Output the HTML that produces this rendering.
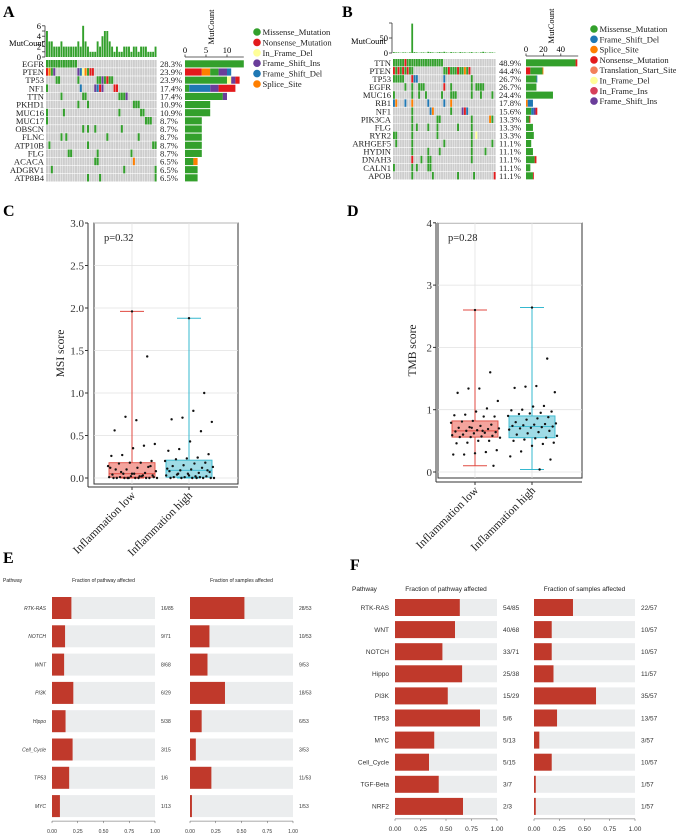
<!DOCTYPE html>
<html><head><meta charset="utf-8"><style>
html,body{margin:0;padding:0;background:#fff;}
svg{display:block;}
</style></head><body>
<svg id="fig" width="676" height="835" xmlns="http://www.w3.org/2000/svg" font-family="Liberation Serif, serif"></svg>
<script>
// ---------- DATA ----------
const typeColors = {Missense_Mutation:'#33a02c',Nonsense_Mutation:'#e31a1c',In_Frame_Del:'#ffff99',Frame_Shift_Ins:'#6a3d9a',Frame_Shift_Del:'#1f78b4',Splice_Site:'#ff7f00',Translation_Start_Site:'#f2805a',In_Frame_Ins:'#d6405a'};
const legendA = ['Missense_Mutation','Nonsense_Mutation','In_Frame_Del','Frame_Shift_Ins','Frame_Shift_Del','Splice_Site'];
const legendB = ['Missense_Mutation','Frame_Shift_Del','Splice_Site','Nonsense_Mutation','Translation_Start_Site','In_Frame_Del','In_Frame_Ins','Frame_Shift_Ins'];
const genesA = ['EGFR','PTEN','TP53','NF1','TTN','PKHD1','MUC16','MUC17','OBSCN','FLNC','ATP10B','FLG','ACACA','ADGRV1','ATP8B4'];
const pctA = ['28.3%','23.9%','23.9%','17.4%','17.4%','10.9%','10.9%','8.7%','8.7%','8.7%','8.7%','8.7%','6.5%','6.5%','6.5%'];
const G='Missense_Mutation',R='Nonsense_Mutation',Y='In_Frame_Del',P='Frame_Shift_Ins',B='Frame_Shift_Del',O='Splice_Site',T='Translation_Start_Site',I='In_Frame_Ins';
const mutA = [
 [[0,G],[1,G],[2,G],[3,G],[4,G],[5,G],[6,G],[7,G],[8,G],[9,G],[10,G],[11,G],[12,G]],
 [[0,R],[1,O],[2,G],[3,P],[13,P],[14,B],[15,Y],[16,O],[17,G],[18,R],[19,R]],
 [[4,G],[5,G],[13,G],[21,G],[22,G],[23,P],[24,G],[25,R],[26,G],[27,G]],
 [[0,G],[14,B],[20,P],[21,B],[22,R],[23,P],[28,R],[29,R]],
 [[6,G],[15,G],[16,G],[30,G],[31,G],[32,G],[33,P]],
 [[13,G],[17,G],[36,G],[37,G],[38,G]],
 [[0,G],[7,G],[30,G],[39,G],[40,G]],
 [[0,G],[41,G],[42,G],[43,G]],
 [[15,G],[17,G],[20,G],[31,G]],
 [[6,G],[8,G],[25,G],[38,G]],
 [[1,G],[17,G],[44,G],[45,G]],
 [[9,G],[10,G],[21,G],[35,G]],
 [[20,G],[21,G],[36,O]],
 [[2,G],[32,G],[45,G]],
 [[17,G],[22,G],[45,G]]
];
const topA = [5,3,3,2,2,2,3,2,2,2,2,2,2,3,2,6,3,2,1,1,1,3,2,4,5,5,3,2,1,2,1,1,2,2,2,1,2,2,1,2,2,2,1,1,1,2];
const barsA = [
 [[G,14]],[[R,4],[O,2],[G,2],[P,2],[B,1]],[[G,10],[Y,1],[P,1],[R,1]],[[G,1],[B,5],[P,2],[R,4]],[[G,9],[P,1]],
 [[G,6]],[[G,6]],[[G,4]],[[G,4]],[[G,4]],[[G,4]],[[G,4]],[[G,2],[O,1]],[[G,3]],[[G,3]]
];
const genesB = ['TTN','PTEN','TP53','EGFR','MUC16','RB1','NF1','PIK3CA','FLG','RYR2','ARHGEF5','HYDIN','DNAH3','CALN1','APOB'];
const pctB = ['48.9%','44.4%','26.7%','26.7%','24.4%','17.8%','15.6%','13.3%','13.3%','13.3%','11.1%','11.1%','11.1%','11.1%','11.1%'];
const mutB = [
 [[0,G],[1,G],[2,G],[3,G],[4,G],[5,R],[6,G],[7,G],[8,G],[9,G],[10,G],[11,G],[12,G],[13,G],[14,G],[15,G],[16,G],[17,G],[18,G],[19,G],[20,G],[21,G]],
 [[0,R],[1,G],[2,R],[3,G],[4,R],[5,G],[6,R],[7,G],[8,G],[22,G],[23,G],[24,R],[25,G],[26,G],[27,G],[28,R],[29,G],[30,G],[31,O],[32,G],[33,R]],
 [[0,G],[1,G],[2,G],[3,G],[4,G],[8,R],[9,B],[10,B],[22,B],[34,G]],
 [[5,G],[8,G],[11,G],[12,G],[13,G],[22,R],[25,G],[34,G],[36,G],[37,G],[38,G],[39,G]],
 [[0,G],[8,G],[11,G],[14,G],[21,G],[25,G],[26,G],[27,G],[34,G],[38,G],[43,G]],
 [[0,B],[1,O],[5,B],[8,O],[15,B],[22,B],[25,O]],
 [[8,G],[16,B],[17,O],[25,G],[30,P],[31,R],[32,B]],
 [[8,G],[19,G],[20,G],[34,G],[42,O],[43,G]],
 [[8,G],[10,G],[15,G],[19,G],[28,G],[34,G]],
 [[0,G],[1,G],[8,G],[19,G],[34,G],[36,Y]],
 [[1,G],[8,G],[22,G],[34,G],[43,G]],
 [[8,G],[15,G],[20,G],[34,G],[40,G]],
 [[8,R],[12,G],[15,G],[16,G],[34,G]],
 [[0,G],[8,G],[10,G],[15,G],[16,G]],
 [[8,G],[17,G],[28,G],[35,G],[44,R]]
];
const topB = [3,2,2,1,2,2,1,2,98,3,2,1,2,2,1,4,3,2,1,2,3,2,4,2,1,3,2,2,1,3,2,2,1,2,3,1,2,1,2,4,2,1,2,2,1];
const barsB = [
 [[G,57],[R,2]],[[R,5],[G,14],[O,1]],[[G,12],[B,1]],[[G,12]],[[G,31]],[[O,2],[B,6]],[[G,6],[B,3],[P,2],[R,2]],
 [[G,4],[R,1]],[[G,8]],[[G,9]],[[G,6]],[[G,8]],[[G,10],[R,2]],[[G,5]],[[G,8],[R,1]]
];
// Boxplot data
const groups = ['Inflammation low','Inflammation high'];
const msiLow = [1.96,1.43,0.68,0.72,0.56,0.40,0.38,0.35,0.27,0.26,0.20,0.18,0.18,0.17,0.14,0.13,0.12,0.10,0.10,0.08,0.06,0.05,0.05,0.04,0.03,0.02,0.02,0.01,0.01,0,0,0,0,0,0,0,0,0,0.01,0.03,0.05,0.07,0.12,0.14,0.02,0];
const msiHigh = [1.88,1.00,0.79,0.71,0.69,0.66,0.55,0.43,0.34,0.32,0.28,0.24,0.23,0.22,0.20,0.18,0.17,0.15,0.14,0.13,0.12,0.10,0.09,0.08,0.07,0.06,0.05,0.04,0.03,0.02,0.02,0.01,0.01,0,0,0,0,0,0,0.01,0.03,0.05,0.11,0.09,0];
const msiStats = [[0,0.01,0.05,0.18,1.96],[0,0.01,0.09,0.21,1.88]]; // min,q1,med,q3,max
const tmbLow = [2.6,1.6,1.34,1.34,1.27,1.14,1.02,0.97,0.92,0.91,0.89,0.89,0.82,0.81,0.79,0.76,0.74,0.72,0.71,0.7,0.69,0.67,0.66,0.65,0.64,0.63,0.62,0.6,0.59,0.58,0.57,0.56,0.56,0.55,0.5,0.5,0.47,0.46,0.35,0.32,0.3,0.28,0.28,0.1,0.66,0.71];
const tmbHigh = [2.64,1.82,1.38,1.37,1.35,1.28,1.06,1.05,1.0,0.99,0.97,0.95,0.94,0.93,0.9,0.88,0.86,0.84,0.8,0.78,0.77,0.76,0.75,0.74,0.73,0.72,0.71,0.7,0.68,0.66,0.64,0.62,0.6,0.58,0.55,0.54,0.52,0.5,0.47,0.45,0.42,0.33,0.25,0.2,0.04];
const tmbStats = [[0.1,0.56,0.66,0.82,2.6],[0.04,0.55,0.73,0.9,2.64]];
const msiTicks = [0,0.5,1,1.5,2,2.5,3];
const tmbTicks = [0,1,2,3,4];
// Pathway data
const pathE = ['RTK-RAS','NOTCH','WNT','PI3K','Hippo','Cell_Cycle','TP53','MYC'];
const pathEFrac = ['16/85','9/71','8/68','6/29','5/38','3/15','1/6','1/13'];
const pathESamp = ['28/53','10/53','9/53','18/53','6/53','3/53','11/53','1/53'];
const pathF = ['RTK-RAS','WNT','NOTCH','Hippo','PI3K','TP53','MYC','Cell_Cycle','TGF-Beta','NRF2'];
const pathFFrac = ['54/85','40/68','33/71','25/38','15/29','5/6','5/13','5/15','3/7','2/3'];
const pathFSamp = ['22/57','10/57','10/57','11/57','35/57','13/57','3/57','10/57','1/57','1/57'];
const fracTicks = ['0.00','0.25','0.50','0.75','1.00'];

// ---------- HELPERS ----------
const svg = document.getElementById('fig');
const NS='http://www.w3.org/2000/svg';
function mk(tag, attrs, parent){const e=document.createElementNS(NS,tag);for(const k in attrs)e.setAttribute(k,attrs[k]);(parent||svg).appendChild(e);return e;}
function txt(s, attrs, parent){const e=mk('text',attrs,parent);e.textContent=s;return e;}

// panel letters
[['A',3,17],['B',342,17],['C',3,216],['D',347,216],['E',3,563],['F',350,570]].forEach(([l,x,y])=>{
 const t=txt(l,{x:x,y:y,'font-size':16,'font-weight':'bold'});
 
 
});

// ---------- ONCOPLOT ----------
function oncoplot(cfg){
 const g=mk('g',{});
 
 
 const n=cfg.nSamples, cw=(cfg.x1-cfg.x0)/n, rh=cfg.rowH;
 cfg.genes.forEach((gene,r)=>{
  const y=cfg.y0+r*rh;
  for(let i=0;i<n;i++) mk('rect',{x:cfg.x0+i*cw,y:y,width:cw-0.4,height:rh-0.6,fill:'#cdcdcd'},g);
  cfg.muts[r].forEach(([i,t])=>{
   const c=mk('rect',{x:cfg.x0+i*cw,y:y,width:cw-0.4,height:rh-0.6,fill:typeColors[t]},g);
   
   
  });
  const gl=txt(gene,{x:cfg.x0-2,y:y+rh-1.2,'font-size':8.6,'text-anchor':'end',fill:'#222'},g);
  
  
  txt(cfg.pct[r],{x:cfg.x1+3,y:y+rh-1.2,'font-size':8.6,fill:'#222'},g);
  let bx=cfg.bx0;
  cfg.bars[r].forEach(([t,v])=>{
   const w=v*cfg.bscale;
   const b=mk('rect',{x:bx,y:y+0.3,width:w,height:rh-1,fill:typeColors[t]},g);
   
   
   bx+=w;
  });
 });
 const tb=cfg.topBase;
 cfg.top.forEach((v,i)=>{
  const h=Math.min(v,cfg.topMax)*cfg.tscale;
  const b=mk('rect',{x:cfg.x0+i*cw,y:tb-h,width:cw-0.5,height:h,fill:typeColors[G]},g);
  
  
 });
 mk('line',{x1:cfg.x0-1,y1:tb,x2:cfg.x0-1,y2:tb-cfg.topTicks[cfg.topTicks.length-1]*cfg.tscale,stroke:'#333','stroke-width':0.8},g);
 cfg.topTicks.forEach(v=>{
  const y=tb-v*cfg.tscale;
  mk('line',{x1:cfg.x0-4,y1:y,x2:cfg.x0-1,y2:y,stroke:'#333','stroke-width':0.8},g);
  if(cfg.topLabels.includes(v)) txt(String(v),{x:cfg.x0-5,y:y+3,'font-size':8.5,'text-anchor':'end'},g);
 });
 txt('MutCount',{x:cfg.mcX,y:cfg.mcY,'font-size':8.5,'text-anchor':'end'},g);
 const ay=cfg.y0-3;
 mk('line',{x1:cfg.bx0,y1:ay,x2:cfg.bx0+cfg.bAxisMax*cfg.bscale,y2:ay,stroke:'#333','stroke-width':0.8},g);
 cfg.bTicks.forEach(v=>{
  const x=cfg.bx0+v*cfg.bscale;
  mk('line',{x1:x,y1:ay,x2:x,y2:ay-2.5,stroke:'#333','stroke-width':0.8},g);
  txt(String(v),{x:x,y:ay-4,'font-size':8.5,'text-anchor':'middle'},g);
 });
 txt('MutCount',{x:0,y:0,'font-size':8.5,'text-anchor':'middle',transform:`translate(${cfg.bx0+cfg.mcOff},${ay-30}) rotate(-90)`},g);
 cfg.legend.forEach((t,i)=>{
  const y=cfg.lgY+i*cfg.lgStep;
  const c=mk('circle',{cx:cfg.lgX,cy:y,r:3.8,fill:typeColors[t]},g);
  
  
  txt(t,{x:cfg.lgX+5.5,y:y+3,'font-size':8.6,fill:'#222'},g);
 });
}
oncoplot({name:'oncoplot-a',nSamples:46,x0:46,x1:157,y0:60,rowH:8.14,genes:genesA,muts:mutA,pct:pctA,bars:barsA,bx0:185,bscale:4.2,bAxisMax:14,bTicks:[0,5,10],mcOff:29,
 top:topA,topBase:57,tscale:5.2,topMax:6,topTicks:[0,1,2,3,4,5,6],topLabels:[0,2,4,6],mcX:44,mcY:46,legend:legendA,lgX:257,lgY:32,lgStep:10.4});
oncoplot({name:'oncoplot-b',nSamples:45,x0:393,x1:496,y0:59,rowH:8.07,genes:genesB,muts:mutB,pct:pctB,bars:barsB,bx0:526,bscale:0.87,bAxisMax:60,bTicks:[0,20,40],mcOff:28,
 top:topB,topBase:53,tscale:0.3,topMax:100,topTicks:[0,50,100],topLabels:[0,50],mcX:386,mcY:44,legend:legendB,lgX:594,lgY:29,lgStep:10.3});

// ---------- BOXPLOTS ----------
function boxplot(cfg){
 const g=mk('g',{});
 
 
 const yS=v=>cfg.yZero-(v)*cfg.yUnit;
 mk('rect',{x:cfg.bx0,y:cfg.by0,width:cfg.bx1-cfg.bx0,height:cfg.by1-cfg.by0,fill:'#fff',stroke:'#333','stroke-width':1},g);
 cfg.ticks.forEach(v=>{
  const y=yS(v);
  mk('line',{x1:cfg.bx0,y1:y,x2:cfg.bx1,y2:y,stroke:'#e2e2e2','stroke-width':0.8},g);
  mk('line',{x1:cfg.ax-3,y1:y,x2:cfg.ax,y2:y,stroke:'#333','stroke-width':1},g);
  const t=txt(cfg.fmt(v),{x:cfg.ax-4,y:y+4,'font-size':11,'text-anchor':'end',fill:'#333'},g);
  
  
 });
 cfg.gx.forEach(x=>mk('line',{x1:x,y1:cfg.by0,x2:x,y2:cfg.by1,stroke:'#e2e2e2','stroke-width':0.8},g));
 mk('line',{x1:cfg.ax,y1:cfg.by0,x2:cfg.ax,y2:cfg.xaY,stroke:'#333','stroke-width':1},g);
 mk('line',{x1:cfg.ax,y1:cfg.xaY,x2:cfg.bx1,y2:cfg.xaY,stroke:'#333','stroke-width':1},g);
 const cols=[['#f8766d','#f4a49d','#e04a40'],['#00bfc4','#9fdbe6','#35b8cf']];
 cfg.stats.forEach((s,k)=>{
  const x=cfg.gx[k], hw=23, c=cols[k];
  const bx=mk('rect',{x:x-hw,y:yS(s[3]),width:2*hw,height:yS(s[1])-yS(s[3]),fill:c[1],stroke:c[2],'stroke-width':0.9},g);
  
  
  mk('line',{x1:x-hw,y1:yS(s[2]),x2:x+hw,y2:yS(s[2]),stroke:c[2],'stroke-width':0.9},g);
  mk('line',{x1:x,y1:yS(s[4]),x2:x,y2:yS(s[3]),stroke:c[2],'stroke-width':1},g);
  mk('line',{x1:x,y1:yS(s[1]),x2:x,y2:yS(s[0]),stroke:c[2],'stroke-width':1},g);
  mk('line',{x1:x-12,y1:yS(s[4]),x2:x+12,y2:yS(s[4]),stroke:c[2],'stroke-width':1},g);
  mk('line',{x1:x-12,y1:yS(s[0]),x2:x+12,y2:yS(s[0]),stroke:c[2],'stroke-width':1},g);
  cfg.pts[k].forEach((v,i)=>{
   const jit=(((i*37)%47)/46-0.5)*50;
   const d=mk('circle',{cx:x+(i===0?0:jit),cy:yS(v),r:1.2,fill:'#111'},g);
   
   
  });
  mk('line',{x1:x,y1:cfg.xaY,x2:x,y2:cfg.xaY+3,stroke:'#333','stroke-width':1},g);
  const xl=txt(groups[k],{x:0,y:0,'font-size':11.5,'text-anchor':'end',fill:'#222',transform:`translate(${x+4},${cfg.xaY+9}) rotate(-45)`},g);
  
  
 });
 txt(cfg.p,{x:cfg.bx0+10,y:cfg.by0+18,'font-size':10.5,fill:'#222'},g);
 const yt=txt(cfg.ytitle,{x:0,y:0,'font-size':11.5,'text-anchor':'middle',fill:'#222',transform:`translate(${cfg.ytX},${(cfg.by0+cfg.by1)/2}) rotate(-90)`},g);
 
 
}
boxplot({name:'msi-boxplot',bx0:94,bx1:238,by0:223,by1:484,ax:88,xaY:487,yZero:478,yUnit:85,ticks:msiTicks,fmt:v=>v.toFixed(1),gx:[132,189],
 stats:msiStats,pts:[msiLow,msiHigh],p:'p=0.32',ytitle:'MSI score',ytX:64});
boxplot({name:'tmb-boxplot',bx0:438,bx1:582,by0:223,by1:478,ax:436,xaY:482,yZero:472,yUnit:62.3,ticks:tmbTicks,fmt:v=>String(v),gx:[475,532],
 stats:tmbStats,pts:[tmbLow,tmbHigh],p:'p=0.28',ytitle:'TMB score',ytX:416});

// ---------- PATHWAY BARS ----------
function frac(s){const [a,b]=s.split('/').map(Number);return a/b;}
function pathway(cfg){
 const g=mk('g',{});
 
 
 const fs=cfg.fs;
 txt('Pathway',{x:cfg.phX,y:cfg.hY,'font-size':fs,'font-family':'Liberation Sans, sans-serif',fill:'#222'},g);
 [[cfg.l0,cfg.l1,cfg.fr,'Fraction of pathway affected'],[cfg.r0,cfg.r1,cfg.sa,'Fraction of samples affected']].forEach(([x0,x1,arr,title],k)=>{
  txt(title,{x:(x0+x1)/2,y:cfg.hY,'font-size':fs,'text-anchor':'middle','font-family':'Liberation Sans, sans-serif',fill:'#222'},g);
  const W=x1-x0;
  cfg.paths.forEach((p,i)=>{
   const y=cfg.y0+i*cfg.pitch;
   mk('rect',{x:x0,y:y,width:W,height:cfg.bh,fill:'#ebedee'},g);
   const b=mk('rect',{x:x0,y:y,width:frac(arr[i])*W,height:cfg.bh,fill:'#c0392b'},g);
   
   
   txt(arr[i],{x:x1+6,y:y+cfg.bh/2+fs*0.35,'font-size':fs,'font-family':'Liberation Sans, sans-serif',fill:'#333'},g);
   if(k===0){
    const l=txt(p,{x:x0-6,y:y+cfg.bh/2+fs*0.35,'font-size':fs,'text-anchor':'end','font-family':'Liberation Sans, sans-serif','font-style':cfg.italic?'italic':'normal',fill:'#333'},g);
    
    
   }
  });
  const ay=cfg.y0+cfg.paths.length*cfg.pitch-cfg.pitch+cfg.bh+4;
  mk('line',{x1:x0,y1:ay,x2:x1,y2:ay,stroke:'#555','stroke-width':0.5},g);
  fracTicks.forEach((t,j)=>{
   const x=x0+Number(t)*W;
   mk('line',{x1:x,y1:ay,x2:x,y2:ay+2,stroke:'#555','stroke-width':0.5},g);
   txt(t,{x:x,y:cfg.tY,'font-size':fs,'text-anchor':'middle','font-family':'Liberation Sans, sans-serif',fill:'#333'},g);
  });
 });
}
pathway({name:'pathway-chart-e',paths:pathE,fr:pathEFrac,sa:pathESamp,l0:52,l1:155,r0:190,r1:293,y0:597,pitch:28.3,bh:22,fs:5,hY:582,phX:3,tY:833,italic:true});
pathway({name:'pathway-chart-f',paths:pathF,fr:pathFFrac,sa:pathFSamp,l0:395,l1:497,r0:534,r1:635,y0:599,pitch:22.1,bh:17,fs:6.5,hY:591,phX:352,tY:831,italic:false});
</script>
</body></html>
